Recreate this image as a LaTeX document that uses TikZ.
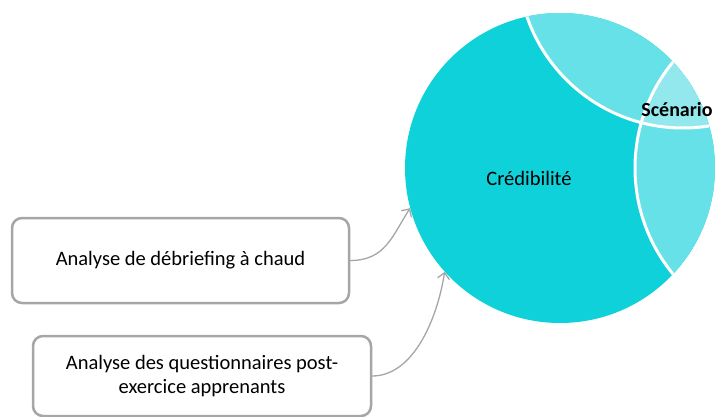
\documentclass[tikz,border=0pt]{standalone}
\usepackage{fontspec}
\setmainfont{Carlito}
\usetikzlibrary{arrows.meta}
\definecolor{cmain}{RGB}{14,209,218}
\definecolor{clight}{RGB}{102,225,231}
\definecolor{cpale}{RGB}{147,232,238}
\definecolor{cgray}{RGB}{166,166,166}
\begin{document}
\begin{tikzpicture}[
	x=1pt, y=-1pt,
	line cap=round, line join=round,
	font=\fontsize{20.5}{24}\selectfont,
	box/.style={draw=cgray, line width=2.5pt, rounded corners=10pt, fill=white, align=center, inner sep=0pt},
	link/.style={draw=cgray, line width=1.3pt, -{Straight Barb[length=6pt,width=12pt]}},
	rim/.style={draw=white, line width=3pt}
	]
	\useasboundingbox (0,0) rectangle (715,417);
	
	\node[circle, fill=cmain, minimum size=310pt, inner sep=0pt] (cred) at (560,168) {};
	\begin{scope}
		\clip (560,168) circle (155);
		\fill[clight] (683,-37) circle (165);
		\fill[clight] (802,168) circle (167);
		\begin{scope}
			\clip (683,-37) circle (165);
			\fill[cpale] (802,168) circle (167);
		\end{scope}
		\draw[rim] (683,-37) circle (165);
		\draw[rim] (802,168) circle (167);
	\end{scope}
	
	\node (credlabel) at (529,178) {Crédibilité};
	\node[font=\fontsize{20}{24}\selectfont\bfseries] (scenario) at (677,110) {Scénario};
	
	\node[box, minimum width=337pt, minimum height=85pt] (debrief) at (180.5,260.5) {Analyse de débriefing à chaud};
	\node[box, minimum width=338pt, minimum height=80pt] (quest) at (202,376) {Analyse des questionnaires post-\\exercice apprenants};
	
	\draw[link] (debrief.east) .. controls +(35,0) and +(-18,28) .. (cred.195);
	\draw[link] (quest.east) .. controls +(40,0) and +(-8,50) .. (cred.222);
\end{tikzpicture}
\end{document}
